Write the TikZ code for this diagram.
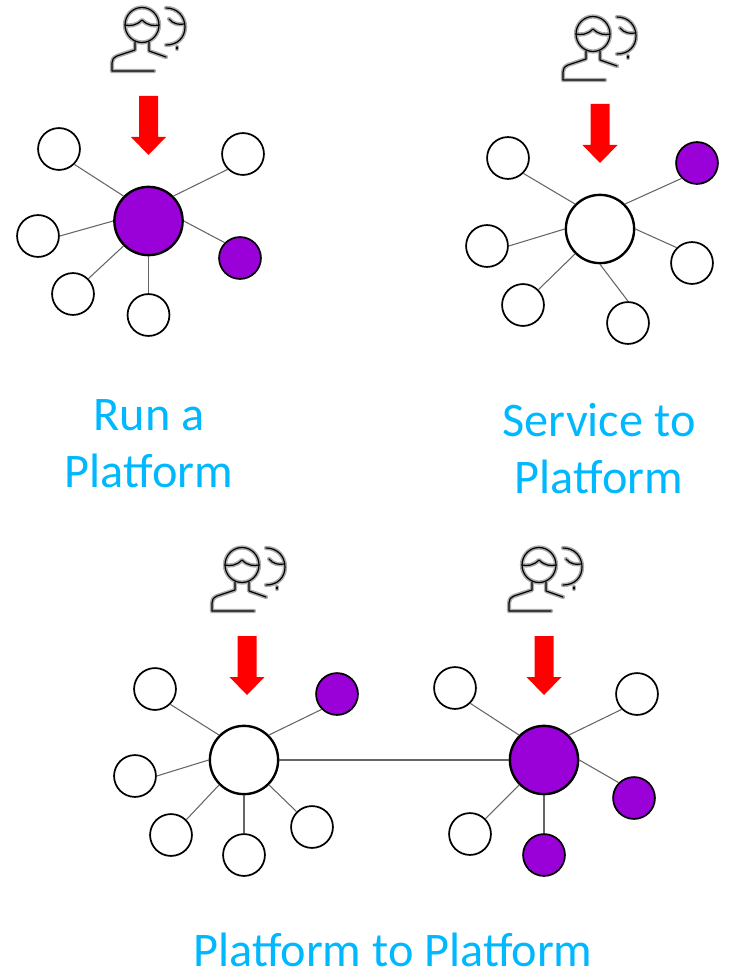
\documentclass[tikz,border=0pt]{standalone}
\usepackage{fontspec}
\setmainfont{Carlito}
\definecolor{plum}{HTML}{9A00D8}
\definecolor{capt}{HTML}{00B8FF}
\definecolor{wire}{HTML}{666666}
\definecolor{halo}{HTML}{ABABAB}
\tikzset{
  x=0.75pt,y=-0.75pt,
  leaf/.style={circle,draw=black,line width=1.3pt,fill=white,inner sep=0pt,minimum size=31.4pt},
  hub/.style={circle,draw=black,line width=1.8pt,fill=white,inner sep=0pt,minimum size=51.2pt},
  filled/.style={fill=plum},
  link/.style={draw=wire,line width=0.8pt},
  downarrow/.style={fill=red,draw=none},
  caption/.style={text=capt,font=\fontsize{36.2}{42}\selectfont,inner sep=0pt,anchor=center},
  iconhalo/.style={draw=halo,line width=3.2pt,line cap=round,line join=round},
  iconline/.style={draw=black,line width=0.9pt,line cap=round,line join=round},
  pics/iconpaths/.style={code={
    \path[#1] (0,0) ellipse [x radius=17,y radius=17.5];
    \path[#1] (-17,0) .. controls (-12,1) and (-6,1) .. (0,-5) .. controls (6,1) and (12,1) .. (17,0);
    \path[#1] (-7,17) -- (-7,25) -- (-25,31) .. controls (-29,33) and (-30,35) .. (-30,38) -- (-30,46) -- (12,46);
    \path[#1] (7,17) -- (7,26) -- (24,32);
    \path[#1] (24,-17) .. controls (36,-17) and (43,-8) .. (43,2) .. controls (43,12) and (36,20) .. (24,20);
    \path[#1] (27,-6) .. controls (31,-1) and (37,0) .. (42,-1);
    \path[#1] (35,22) -- (35,24);
  }},
  pics/agent/.style={code={
    \pic {iconpaths=iconhalo};
    \pic {iconpaths=iconline};
  }},
  pics/redarrow/.style={code={
    \path[downarrow] (-9.5,0) -- (9.5,0) -- (9.5,41) -- (17.5,41) -- (0,59) -- (-17.5,41) -- (-9.5,41) -- cycle;
  }},
}
\begin{document}
\begin{tikzpicture}
\useasboundingbox (0,0) rectangle (730,973);

% Run a Platform
\pic at (142,25) {agent};
\pic at (148.5,96) {redarrow};
\node[hub,filled] (a0) at (148.5,221) {};
\node[leaf] (a1) at (59,149) {};
\node[leaf] (a2) at (243,154) {};
\node[leaf] (a3) at (38,236) {};
\node[leaf,filled] (a4) at (240,258) {};
\node[leaf] (a5) at (73,294) {};
\node[leaf] (a6) at (148.5,315) {};
\draw[link] (a0.135) -- (a1.-45);
\draw[link] (a0.45) -- (a2.225);
\draw[link] (a0.180) -- (a3.0);
\draw[link] (a0.0) -- (a4.135);
\draw[link] (a0.225) -- (a5.45);
\draw[link] (a0.270) -- (a6.90);
\node[caption] (ta) at (149,415) {Run a};
\node[caption] (tb) at (149,471) {Platform};

% Service to Platform
\pic at (593,34) {agent};
\pic at (600,104) {redarrow};
\node[hub] (b0) at (600,229) {};
\node[leaf] (b1) at (508,158) {};
\node[leaf,filled] (b2) at (697,163) {};
\node[leaf] (b3) at (487,246) {};
\node[leaf] (b4) at (692,263) {};
\node[leaf] (b5) at (523,305) {};
\node[leaf] (b6) at (628,323) {};
\draw[link] (b0.135) -- (b1.-45);
\draw[link] (b0.45) -- (b2.225);
\draw[link] (b0.180) -- (b3.0);
\draw[link] (b0.0) -- (b4.135);
\draw[link] (b0.225) -- (b5.45);
\draw[link] (b0.270) -- (b6.90);
\node[caption] (tc) at (599,420) {Service to};
\node[caption] (td) at (599,477) {Platform};

% Platform to Platform
\pic at (242,565) {agent};
\pic at (539,565) {agent};
\pic at (247,636) {redarrow};
\pic at (544,636) {redarrow};
\node[hub] (c0) at (244,760) {};
\node[leaf] (c1) at (155,689) {};
\node[leaf,filled] (c2) at (337,694) {};
\node[leaf] (c3) at (135,776) {};
\node[leaf] (c4) at (171,835) {};
\node[leaf] (c5) at (244,855) {};
\node[leaf] (c6) at (312,827) {};
\draw[link] (c0.135) -- (c1.-45);
\draw[link] (c0.45) -- (c2.225);
\draw[link] (c0.180) -- (c3.0);
\draw[link] (c0.225) -- (c4.45);
\draw[link] (c0.270) -- (c5.90);
\draw[link] (c0.-45) -- (c6.135);
\node[hub,filled] (d0) at (544,760) {};
\node[leaf] (d1) at (455,688) {};
\node[leaf] (d2) at (637,694) {};
\node[leaf,filled] (d3) at (634,798) {};
\node[leaf] (d4) at (470,834) {};
\node[leaf,filled] (d5) at (544,855) {};
\draw[link] (d0.135) -- (d1.-45);
\draw[link] (d0.45) -- (d2.225);
\draw[link] (d0.0) -- (d3.135);
\draw[link] (d0.225) -- (d4.45);
\draw[link] (d0.270) -- (d5.90);
\draw[link] (c0.0) -- (d0.180);
\node[caption] (te) at (393,950) {Platform to Platform};
\end{tikzpicture}
\end{document}
